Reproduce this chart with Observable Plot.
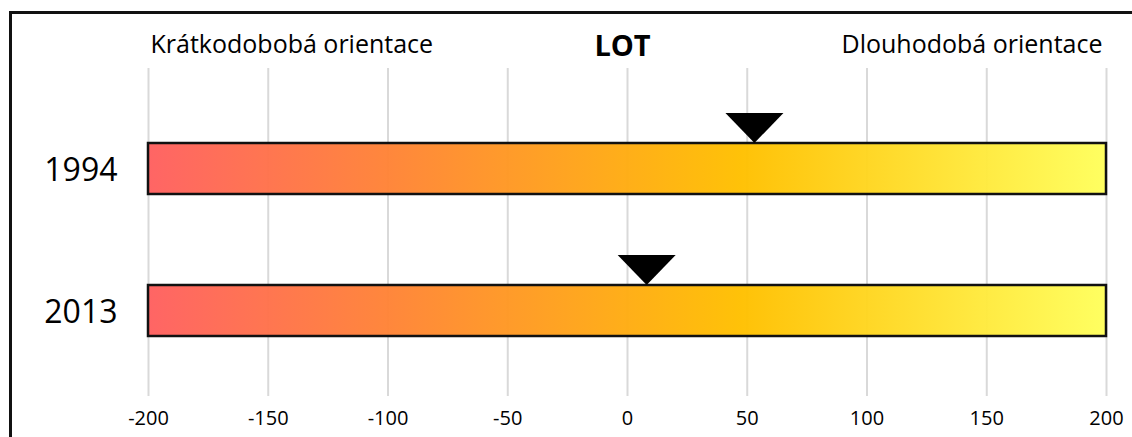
<!DOCTYPE html>
<html><head><meta charset="utf-8">
<script src="https://cdn.jsdelivr.net/npm/d3@7"></script>
<script src="https://cdn.jsdelivr.net/npm/@observablehq/plot@0.6"></script>
<style>
html,body{margin:0;padding:0;background:#fff;overflow:hidden;width:1132px;height:437px}
#wrap{position:relative;width:1132px;height:437px;overflow:hidden}
#border{position:absolute;left:9px;top:11px;width:1200px;height:600px;border-left:3px solid #111;border-top:3px solid #111;pointer-events:none}
</style></head><body><div id="wrap"><div id="border"></div></div>
<script>
// ---- data ----
const years = ["1994", "2013"];
const scores = [53, 8];
const domainMin = -200, domainMax = 200;
const ticks = [-200, -150, -100, -50, 0, 50, 100, 150, 200];
const headerLabels = ["Krátkodobobá orientace", "LOT", "Dlouhodobá orientace"];
const gradientStops = [[0, "#FF6060"], [0.25, "#FF8336"], [0.62, "#FFC000"], [1, "#FFFF5C"]];

const rows = years.map((y, i) => ({year: y, score: scores[i]}));
const FONT = "'Open Sans', sans-serif";

const downTriangle = {
  draw(ctx) {
    const w = 58, h = 30;
    ctx.moveTo(-w / 2, -h);
    ctx.lineTo(w / 2, -h);
    ctx.lineTo(0, 0);
    ctx.closePath();
  }
};

function gradientDefs() {
  const ns = "http://www.w3.org/2000/svg";
  const d = document.createElementNS(ns, "defs");
  const g = document.createElementNS(ns, "linearGradient");
  g.setAttribute("id", "lotGrad");
  g.setAttribute("x1", "0"); g.setAttribute("x2", "1");
  g.setAttribute("y1", "0"); g.setAttribute("y2", "0");
  for (const [o, c] of gradientStops) {
    const s = document.createElementNS(ns, "stop");
    s.setAttribute("offset", o);
    s.setAttribute("stop-color", c);
    g.appendChild(s);
  }
  d.appendChild(g);
  return d;
}

const chart = Plot.plot({
  width: 1132,
  height: 437,
  marginLeft: 148,
  marginRight: 26,
  marginTop: 68,
  marginBottom: 41,
  style: {fontFamily: FONT, color: "#000", background: "transparent", overflow: "visible"},
  x: {domain: [domainMin, domainMax]},
  y: {domain: years, range: [143, 336], paddingInner: 0.641, paddingOuter: 0},
  marks: [
    gradientDefs,
    Plot.ruleX(ticks, {stroke: "#d9d9d9", strokeWidth: 2}),
    Plot.barX(rows, {x1: d => domainMin, x2: d => domainMax, y: "year", fill: "url(#lotGrad)", fillOpacity: 0.97, stroke: "#111", strokeWidth: 2.5}),
    Plot.dot(rows, {x: "score", y: "year", symbol: downTriangle, fill: "#000", stroke: "none", dy: -26}),
    Plot.axisX({ticks, tickSize: 0, tickPadding: 14, fontSize: 20, tickFormat: d => `${d}`, label: null, fontFamily: FONT}),
    Plot.axisY({tickSize: 0, tickPadding: 31, fontSize: 32, label: null, dy: 2, fontFamily: FONT}),
    Plot.text([headerLabels[0]], {frameAnchor: "top-left", textAnchor: "start", lineAnchor: "bottom", dx: 2, dy: -16, fontSize: 25, fontFamily: FONT}),
    Plot.text([headerLabels[1]], {frameAnchor: "top", textAnchor: "middle", lineAnchor: "bottom", dx: -5, dy: -13, fontSize: 29, fontWeight: "bold", fontFamily: FONT}),
    Plot.text([headerLabels[2]], {frameAnchor: "top-right", textAnchor: "end", lineAnchor: "bottom", dx: -4, dy: -16, fontSize: 25, fontFamily: FONT})
  ]
});
chart.style.position = "absolute";
chart.style.left = "0px";
chart.style.top = "0px";
document.getElementById("wrap").appendChild(chart);
</script>
</body></html>
